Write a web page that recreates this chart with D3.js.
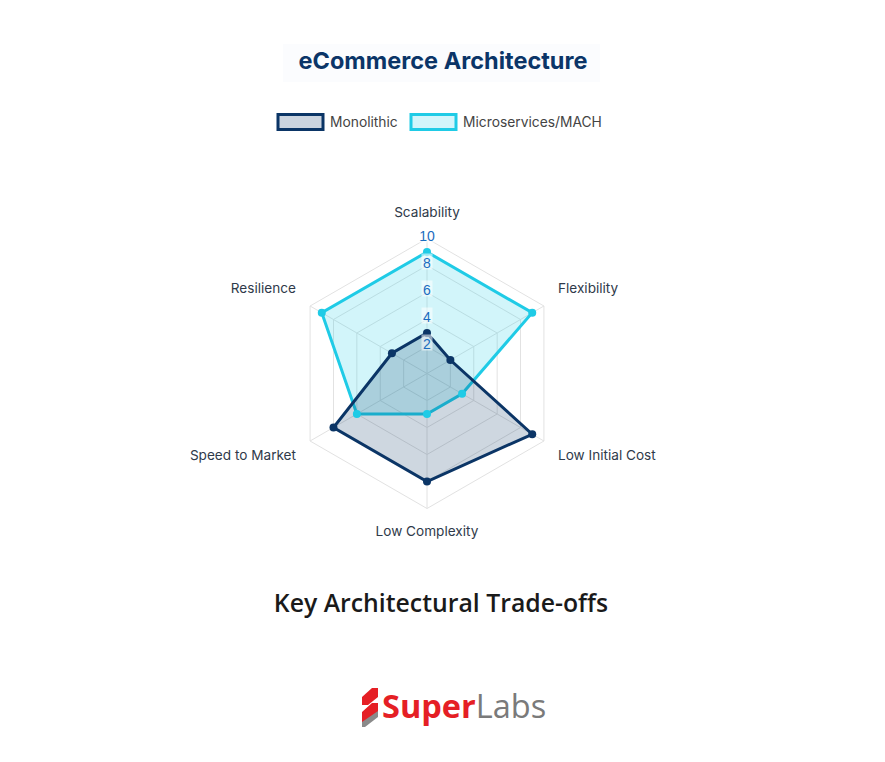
<!DOCTYPE html>
<html><head><meta charset="utf-8">
<script src="https://cdn.jsdelivr.net/npm/d3@7"></script>
<style>html,body{margin:0;padding:0;background:#fff;}svg{display:block;}</style>
</head><body>
<svg id="chart" width="885" height="762"></svg>
<script>
const axes = ["Scalability","Flexibility","Low Initial Cost","Low Complexity","Speed to Market","Resilience"];
const monolithic = [3,2,9,8,8,3];
const microservices = [9,9,3,3,6,9];
const seriesNames = ["Monolithic","Microservices/MACH"];
const tickValues = [2,4,6,8,10];
const title = "eCommerce Architecture";
const subtitle = "Key Architectural Trade-offs";

const svg = d3.select("#chart");
const cx = 427, cy = 373.5, R = 135;
const r = d3.scaleLinear().domain([0,10]).range([0,R]);
const ang = d3.scalePoint().domain(axes).range([0, 2*Math.PI*(axes.length-1)/axes.length]);
const pt = (a, v) => { const t = ang(a) - Math.PI/2; return [cx + r(v)*Math.cos(t), cy + r(v)*Math.sin(t)]; };

// title backdrop (very faint)
svg.append("rect").attr("x",283).attr("y",44).attr("width",317).attr("height",38).attr("fill","#fbfcfe");
svg.append("text").attr("x",443).attr("y",69).attr("text-anchor","middle")
  .attr("font-family","Inter, 'Open Sans', sans-serif").attr("font-weight",700).attr("font-size",23.5)
  .attr("fill","#0b3568").text(title);

// legend
const colors = [{stroke:"#0b3566", fill:"rgba(11,53,102,0.2)", box:"#cbd4df"},{stroke:"#1fcbe6", fill:"rgba(31,203,230,0.2)", box:"#d2f5fb"}];
const legX = [278, 411];
seriesNames.forEach((n,i)=>{
  svg.append("rect").attr("x",legX[i]).attr("y",114.5).attr("width",45).attr("height",15)
    .attr("fill",colors[i].box).attr("stroke",colors[i].stroke).attr("stroke-width",3);
  svg.append("text").attr("x",legX[i]+52).attr("y",127).attr("font-family","Inter, 'Open Sans', sans-serif")
    .attr("font-size",13.8).attr("fill","#444").text(n);
});

// grid
const g = svg.append("g");
tickValues.forEach(v=>{
  g.append("polygon").attr("points", axes.map(a=>pt(a,v).join(",")).join(" "))
    .attr("fill","none").attr("stroke","#e2e2e2").attr("stroke-width",1);
});
axes.forEach(a=>{
  const p = pt(a,10);
  g.append("line").attr("x1",cx).attr("y1",cy).attr("x2",p[0]).attr("y2",p[1]).attr("stroke","#e2e2e2");
});

// series
const data = [monolithic, microservices];
const line = d3.line().curve(d3.curveLinearClosed);
[1,0].forEach(i=>{
  const pts = axes.map((a,k)=>pt(a,data[i][k]));
  g.append("path").attr("d", line(pts)).attr("fill",colors[i].fill).attr("stroke",colors[i].stroke)
    .attr("stroke-width",3).attr("stroke-linejoin","miter");
});
[1,0].forEach(i=>{
  axes.forEach((a,k)=>{
    const p = pt(a,data[i][k]);
    g.append("circle").attr("cx",p[0]).attr("cy",p[1]).attr("r",4).attr("fill",colors[i].stroke);
  });
});

// tick labels
tickValues.forEach(v=>{
  const y = cy - r(v);
  const w = v===10?20:11;
  g.append("rect").attr("x",cx-w/2).attr("y",y-12).attr("width",w).attr("height",16).attr("fill","rgba(255,255,255,0.55)");
  g.append("text").attr("x",cx).attr("y",y+2).attr("text-anchor","middle")
    .attr("font-family","'Liberation Sans', Arial, sans-serif").attr("font-size",14).attr("fill","#1a6cc0").text(v);
});

// axis labels
const labelPos = {
  "Scalability":[427,217,"middle"],
  "Flexibility":[558,293,"start"],
  "Low Initial Cost":[558,460,"start"],
  "Low Complexity":[427,536,"middle"],
  "Speed to Market":[296,460,"end"],
  "Resilience":[296,293,"end"]
};
axes.forEach(a=>{
  const [x,y,an] = labelPos[a];
  svg.append("text").attr("x",x).attr("y",y).attr("text-anchor",an)
    .attr("font-family","Inter, 'Open Sans', sans-serif").attr("font-size",13.6).attr("fill","#2f3a4a").text(a);
});

// subtitle
svg.append("text").attr("x",441).attr("y",612).attr("text-anchor","middle")
  .attr("font-family","'Open Sans', sans-serif").attr("font-weight",600).attr("font-size",24.8)
  .attr("fill","#1a1a1a").text(subtitle);

// logo
const lg = svg.append("g");
lg.append("path").attr("d","M372,688 L378,688 L378,697 L368,705 L362,705 L362,697 Z").attr("fill","#e51f25");
lg.append("path").attr("d","M372,703 L378,703 L378,712 L368,720 L362,726 L362,712 Z").attr("fill","#e51f25");
lg.append("path").attr("d","M378,711 L378,717 L365,727 L362,727 L362,722 Z").attr("fill","#8a8a8a");
const lt = lg.append("text").attr("x",382).attr("y",718).attr("font-family","'Open Sans', sans-serif").attr("font-size",32.5);
lt.append("tspan").attr("font-weight",700).attr("fill","#e51f25").text("Super");
lt.append("tspan").attr("font-weight",400).attr("fill","#7a7a7a").text("Labs");
</script>
</body></html>
